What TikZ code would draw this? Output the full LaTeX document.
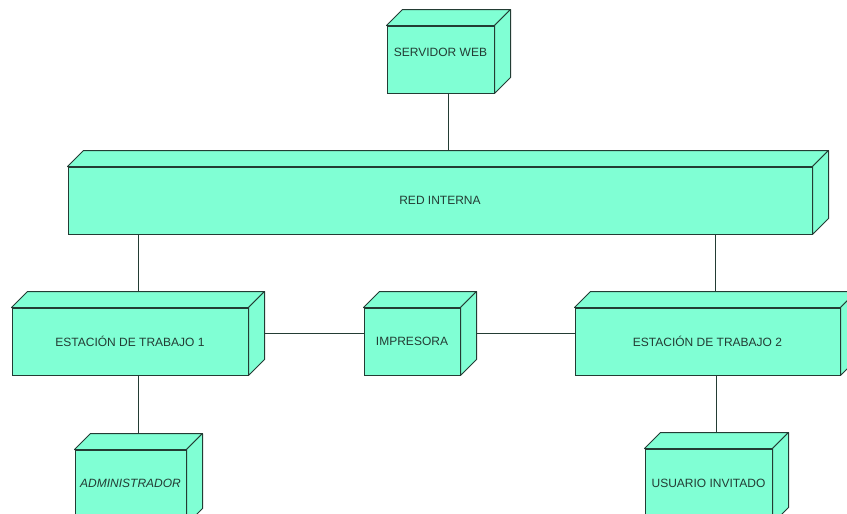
\documentclass[tikz,border=0pt]{standalone}
\usepackage{fontspec}
\setmainfont{Liberation Sans}
\usetikzlibrary{backgrounds}
\definecolor{nodefill}{RGB}{128,255,212}
\definecolor{edgecol}{RGB}{35,60,52}
\tikzset{
  devbox/.style={draw=edgecol, fill=nodefill, line width=1pt, inner sep=0pt,
    minimum height=67pt, font=\fontsize{12}{14}\selectfont, text=edgecol},
  conn/.style={draw=edgecol, line width=1pt},
  face/.style={fill=nodefill, draw=edgecol, line width=1pt, line join=round},
}
\newcommand\devfaces[1]{%
  \filldraw[face] (#1.north west) -- ++(16,16) -- ([shift={(16,16)}]#1.north east) -- (#1.north east) -- cycle;
  \filldraw[face] (#1.north east) -- ++(16,16) -- ([shift={(16,16)}]#1.south east) -- (#1.south east) -- cycle;
}
\begin{document}
\begin{tikzpicture}[x=1pt,y=1pt]
\useasboundingbox (0,0) rectangle (847,-514);
\clip (0,0) rectangle (847,-514);
\node[devbox, minimum width=107pt] (srv) at (440.5,-59.5) {\raisebox{7pt}[\height][\depth]{SERVIDOR WEB}};
\devfaces{srv}
\node[devbox, minimum width=744pt] (red) at (440,-200.5) {RED INTERNA};
\devfaces{red}
\node[devbox, minimum width=236pt] (e1) at (130,-341.5) {ESTACIÓN DE TRABAJO 1};
\devfaces{e1}
\node[devbox, minimum width=96pt] (imp) at (412,-341.5) {IMPRESORA};
\devfaces{imp}
\node[devbox, minimum width=265pt] (e2) at (707.5,-341.5) {ESTACIÓN DE TRABAJO 2};
\devfaces{e2}
\node[devbox, minimum width=111pt, minimum height=74pt] (adm) at (130.5,-487) {\raisebox{4pt}[\height][\depth]{\itshape ADMINISTRADOR}};
\devfaces{adm}
\node[devbox, minimum width=127pt, minimum height=74pt] (usr) at (708.5,-486) {\raisebox{3pt}[\height][\depth]{USUARIO INVITADO}};
\devfaces{usr}
\begin{scope}[on background layer]
  \fill[white] (0,0) rectangle (847,-514);
  \draw[conn] ([xshift=8pt]srv.center) -- ([xshift=8pt]srv.center |- red.center);
  \draw[conn] ([xshift=8pt]e1.center) -- ([xshift=8pt]e1.center |- red.center);
  \draw[conn] ([xshift=8pt]e2.center) -- ([xshift=8pt]e2.center |- red.center);
  \draw[conn] ([yshift=8pt]e1.center) -- ([yshift=8pt]e1.center -| imp.center);
  \draw[conn] ([yshift=8pt]imp.center) -- ([yshift=8pt]imp.center -| e2.center);
  \draw[conn] ([xshift=8pt]adm.center) -- ([xshift=8pt]adm.center |- e1.center);
  \draw[conn] ([xshift=8pt]usr.center) -- ([xshift=8pt]usr.center |- e2.center);
\end{scope}
\end{tikzpicture}
\end{document}
